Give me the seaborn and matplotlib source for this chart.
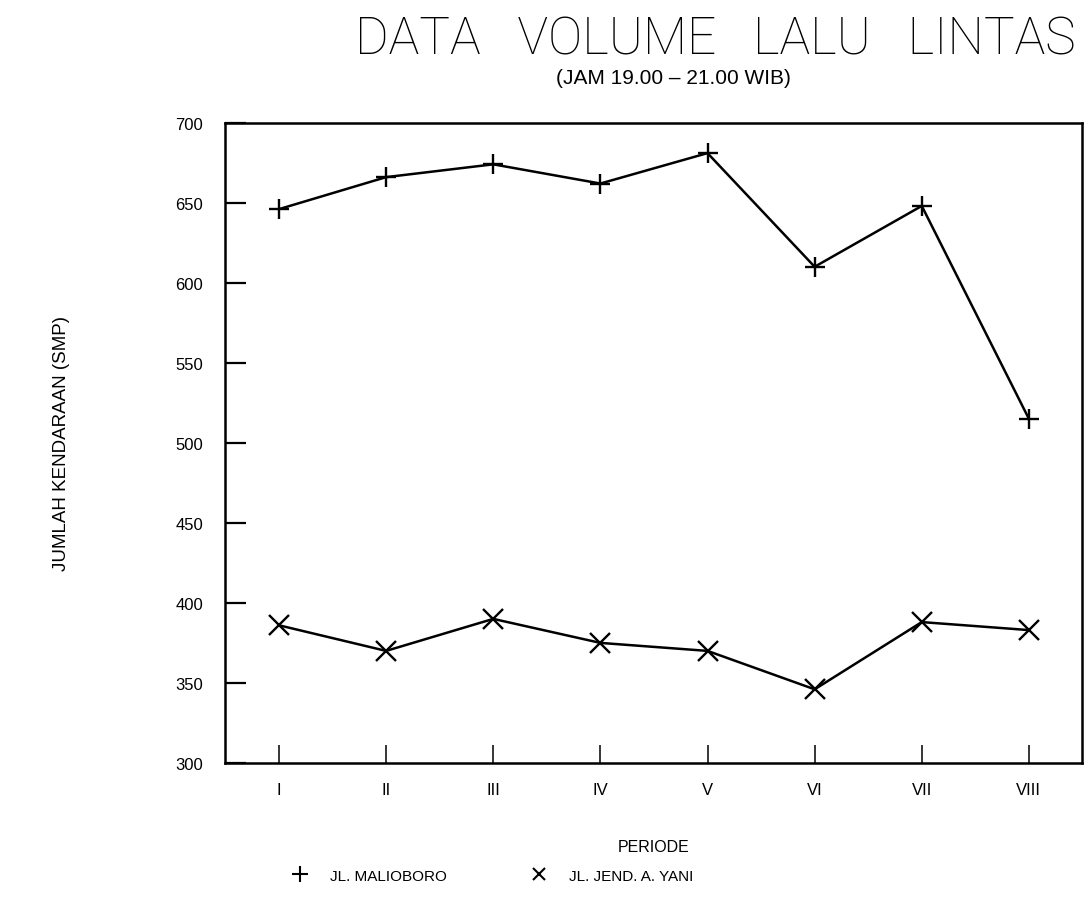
import numpy as np
import pandas as pd
import matplotlib
matplotlib.use("Agg")
import matplotlib.pyplot as plt
from matplotlib.lines import Line2D
import seaborn as sns

# Traffic volume per period, 19.00 - 21.00 WIB
periode = ["I", "II", "III", "IV", "V", "VI", "VII", "VIII"]
malioboro = [646, 666, 674, 662, 681, 610, 648, 515]
ahmad_yani = [386, 370, 390, 375, 370, 346, 388, 383]
y_ticks = [300, 350, 400, 450, 500, 550, 600, 650, 700]

nama_jalan = ["JL. MALIOBORO", "JL. JEND. A. YANI"]

df = pd.DataFrame({
    "pos": list(range(len(periode))) * 2,
    "periode": periode * 2,
    "smp": malioboro + ahmad_yani,
    "jalan": [nama_jalan[0]] * len(periode) + [nama_jalan[1]] * len(periode),
})

sns.set_style("ticks")
plt.rcParams["font.family"] = ["Liberation Sans", "DejaVu Sans"]
plt.rcParams["text.color"] = "black"
plt.rcParams["axes.labelcolor"] = "black"

fig = plt.figure(figsize=(10.89, 9.03), dpi=100)
ax = fig.add_axes([0.207, 0.154, 0.787, 0.709])

sns.lineplot(
    data=df, x="pos", y="smp", hue="jalan", style="jalan",
    markers={nama_jalan[0]: "+", nama_jalan[1]: "x"},
    dashes=False, palette=["black", "black"], linewidth=1.8,
    markersize=14, markeredgewidth=1.7, markeredgecolor="black",
    legend=False, ax=ax,
)

ax.set_xlim(-0.5, 7.5)
ax.set_ylim(300, 700)
ax.set_xticks(range(len(periode)))
ax.set_xticklabels(periode)
ax.set_yticks(y_ticks)
ax.tick_params(axis="both", direction="in", colors="black", labelsize=12,
               bottom=True, left=True, top=False, right=False)
ax.tick_params(axis="y", length=15, pad=16, width=1.6)
ax.tick_params(axis="x", length=13, pad=14, width=1.1)
for s in ax.spines.values():
    s.set_visible(True)
    s.set_color("black")
    s.set_linewidth(1.8)

ax.set_xlabel("PERIODE", fontsize=11.5, labelpad=30)
ax.set_ylabel("JUMLAH KENDARAAN (SMP)", fontsize=13.5, labelpad=76)

fig.text(0.657, 0.955, "DATA   VOLUME   LALU   LINTAS", ha="center",
         va="center", fontsize=37, fontweight="light",
         family=["Roboto", "Liberation Sans", "DejaVu Sans"])
fig.text(0.618, 0.913, "(JAM 19.00 \u2013 21.00 WIB)", ha="center", va="center",
         fontsize=15)

handles = [
    Line2D([], [], color="black", marker="+", linestyle="none",
           markersize=11, markeredgewidth=1.5),
    Line2D([], [], color="black", marker="x", linestyle="none",
           markersize=9, markeredgewidth=1.5),
]
fig.legend(handles, nama_jalan, loc="center", bbox_to_anchor=(0.449, 0.029),
           ncol=2, frameon=False, fontsize=11, columnspacing=5,
           handletextpad=1.0)

fig.savefig("out.png", dpi=100, facecolor="white")
